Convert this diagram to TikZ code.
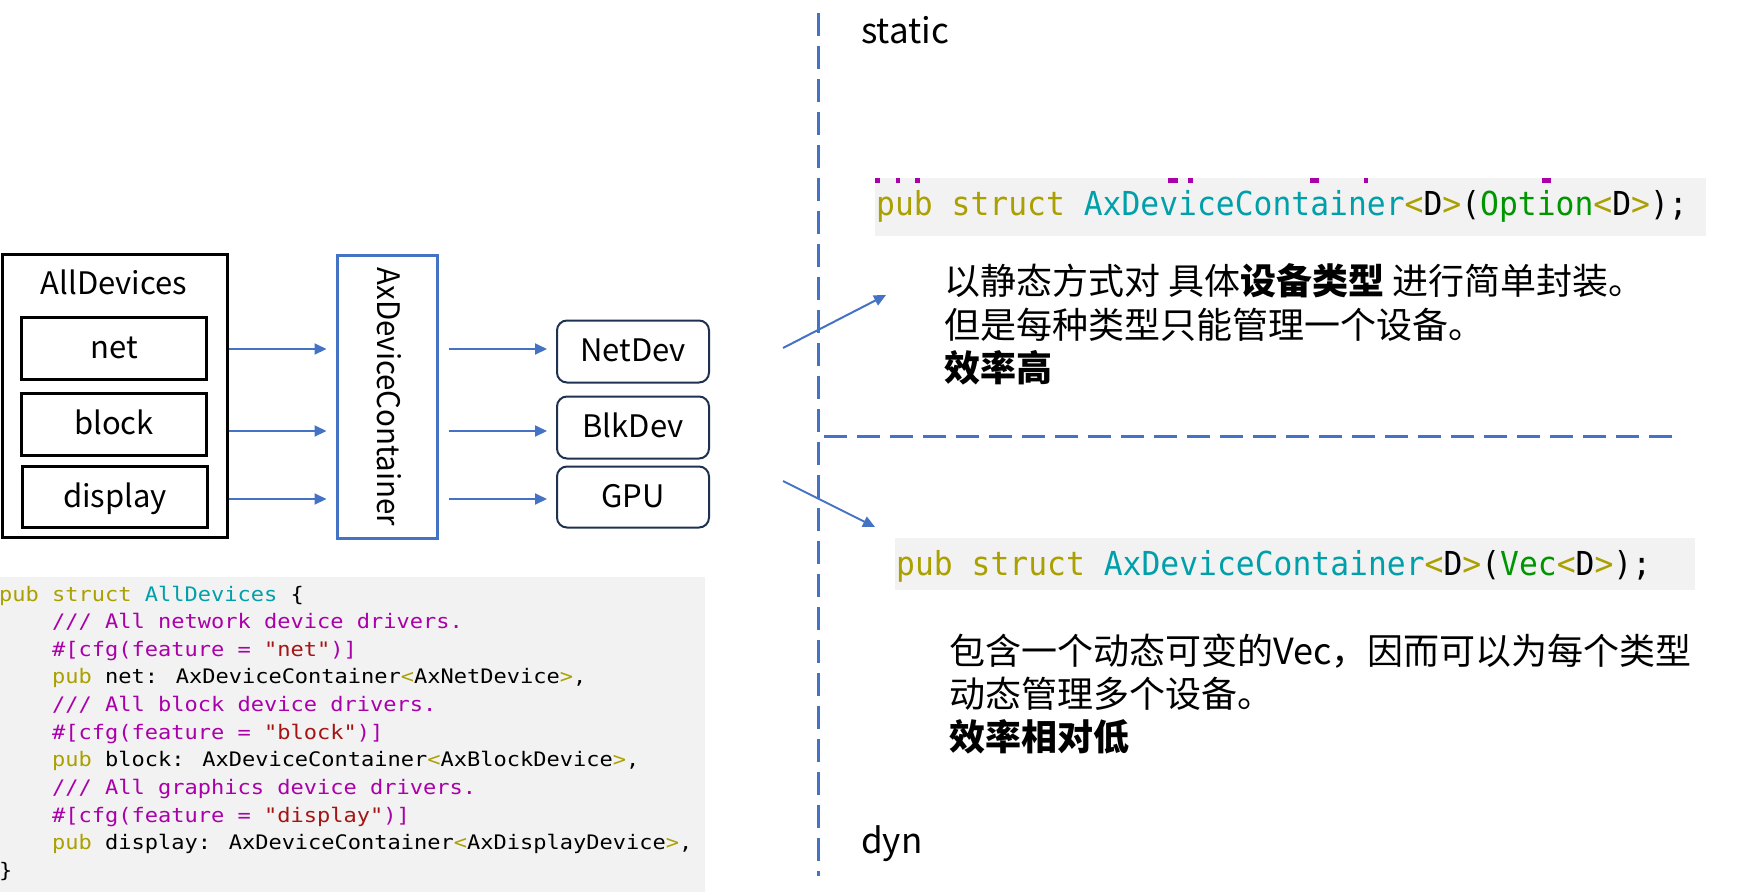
\documentclass[tikz,border=0pt]{standalone}
\usepackage{fontspec}
\setmainfont{Noto Sans CJK SC}
\newfontfamily\narrowsans[FakeStretch=0.95]{Noto Sans CJK SC}
\newfontfamily\codeA[FakeStretch=1.1]{DejaVu Sans Mono}
\newfontfamily\codeB[FakeStretch=0.95]{DejaVu Sans Mono}
\usetikzlibrary{arrows.meta}
\definecolor{axblue}{HTML}{4472C4}
\definecolor{navy}{HTML}{1F3150}
\definecolor{kw}{RGB}{170,160,0}
\definecolor{ty}{RGB}{0,160,170}
\definecolor{cm}{RGB}{170,0,170}
\definecolor{st}{RGB}{163,21,21}
\definecolor{gr}{RGB}{0,150,0}
\definecolor{codebg}{HTML}{F2F2F2}
\newcommand{\ckw}[1]{\textcolor{kw}{#1}}
\newcommand{\cty}[1]{\textcolor{ty}{#1}}
\newcommand{\ccm}[1]{\textcolor{cm}{#1}}
\newcommand{\cst}[1]{\textcolor{st}{#1}}
\newcommand{\cgr}[1]{\textcolor{gr}{#1}}
\tikzset{
  plain/.style={font=\fontsize{31}{36}\selectfont, inner sep=0pt},
  bigplain/.style={font=\fontsize{35}{40}\selectfont, inner sep=0pt},
  lbl/.style={plain, text height=24pt, text depth=4pt},
  blackbox/.style={draw=black, line width=3pt, inner sep=0pt, lbl},
  devbox/.style={draw=navy, line width=2pt, rounded corners=10pt, minimum width=152pt, inner sep=0pt, lbl},
  contbox/.style={draw=axblue, line width=3pt, inner sep=0pt},
  arr/.style={draw=axblue, line width=2pt, -{Triangle[length=12pt,width=11pt]}},
  dashline/.style={draw=axblue, line width=3pt, dash pattern=on 23pt off 10pt},
  codeline/.style={font=\codeA\fontsize{20}{24}\selectfont, inner sep=0pt, anchor=base west},
  codeline2/.style={font=\codeB\fontsize{33}{40}\selectfont, inner sep=0pt, anchor=base west},
  cjk/.style={font=\fontsize{36}{42}\selectfont, inner sep=0pt, anchor=base west},
  bgbox/.style={fill=codebg, inner sep=0pt, anchor=north west},
  frag/.style={fill=cm, inner sep=0pt, anchor=north west, minimum height=5pt}
}
\begin{document}
\begin{tikzpicture}[x=1pt,y=-1pt]
\useasboundingbox (0,0) rectangle (1737,894);

% ---------- left diagram ----------
\node[blackbox, minimum width=225pt, minimum height=283pt] (alldev) at (114.5,396) {};
\node[plain, anchor=base] (alltitle) at (114,294) {AllDevices};
\node[blackbox, minimum width=185pt, minimum height=62pt] (net) at (114,348.5) {net};
\node[blackbox, minimum width=185pt, minimum height=62pt] (block) at (114,424.5) {block};
\node[blackbox, minimum width=185pt, minimum height=61pt] (display) at (115,497) {display};

\node[contbox, minimum width=100pt, minimum height=283pt] (axc) at (387,396.5) {};
\node[lbl, font=\narrowsans\fontsize{31}{36}\selectfont, rotate=-90] (axctext) at (387,397) {AxDeviceContainer};

\node[devbox, minimum height=62pt] (netdev) at (633,351.5) {NetDev};
\node[devbox, minimum height=62pt] (blkdev) at (633,427.5) {BlkDev};
\node[devbox, minimum height=61pt] (gpu) at (633,497) {GPU};

\coordinate (r1) at (0,349);
\coordinate (r2) at (0,431);
\coordinate (r3) at (0,499);
\foreach \r in {r1,r2,r3}{
  \draw[arr, shorten >=9pt] (alldev.east |- \r) -- (axc.west |- \r);
  \draw[arr, shorten <=10pt, shorten >=9pt] (axc.east |- \r) -- (netdev.west |- \r);
}

% ---------- code block (left) ----------
\node[bgbox, minimum width=705pt, minimum height=315pt] (codebgA) at (0,577) {};
\node[codeline] (l1) at (-1,601) {\ckw{pub struct} \cty{AllDevices} \{};
\node[codeline] (l2) at (52,628.6) {\ccm{/// All network device drivers.}};
\node[codeline] (l3) at (52,656.3) {\ccm{\#[cfg(feature = }\cst{"net"}\ccm{)]}};
\node[codeline] (l4) at (52,683.9) {\ckw{pub} net: AxDeviceContainer\ckw{<}AxNetDevice\ckw{>},};
\node[codeline] (l5) at (52,711.6) {\ccm{/// All block device drivers.}};
\node[codeline] (l6) at (52,739.2) {\ccm{\#[cfg(feature = }\cst{"block"}\ccm{)]}};
\node[codeline] (l7) at (52,766.9) {\ckw{pub} block: AxDeviceContainer\ckw{<}AxBlockDevice\ckw{>},};
\node[codeline] (l8) at (52,794.5) {\ccm{/// All graphics device drivers.}};
\node[codeline] (l9) at (52,822.2) {\ccm{\#[cfg(feature = }\cst{"display"}\ccm{)]}};
\node[codeline] (l10) at (52,849.8) {\ckw{pub} display: AxDeviceContainer\ckw{<}AxDisplayDevice\ckw{>},};
\node[codeline] (l11) at (-1,877.5) {\}};

% ---------- separators ----------
\coordinate (vtop) at (818,13);
\coordinate (vbot) at (818,876);
\coordinate (hl) at (824,436);
\coordinate (hr) at (1673,436);
\draw[dashline] (vtop) -- (vbot);
\draw[dashline] (hl) -- (hr);

\node[bigplain, anchor=base west] (static) at (861,43) {static};
\node[bigplain, anchor=base west] (dyn) at (861,853) {dyn};

% ---------- static part ----------
\node[bgbox, minimum width=831pt, minimum height=58pt] (bg2) at (875,178) {};
\foreach \xa/\w in {875/5,896/4,915/5,1168/10,1188/5,1310/9,1364/4,1542/9}{
  \node[frag, minimum width=\w pt] at (\xa,178) {};
}
\node[codeline2] (code2) at (876,215) {\ckw{pub struct} \cty{AxDeviceContainer}\ckw{<}D\ckw{>}(\cgr{Option}\ckw{<}D\ckw{>});};

\node[cjk] (s1) at (944,294.5) {以静态方式对 具体\textbf{设备类型} 进行简单封装。};
\node[cjk] (s2) at (944,338.5) {但是每种类型只能管理一个设备。};
\node[cjk] (s3) at (944,381.5) {\textbf{效率高}};

% ---------- dynamic part ----------
\node[bgbox, minimum width=800pt, minimum height=52pt] (bg3) at (895,538) {};
\node[codeline2] (code3) at (896,575) {\ckw{pub struct} \cty{AxDeviceContainer}\ckw{<}D\ckw{>}(\cgr{Vec}\ckw{<}D\ckw{>});};

\node[cjk] (d1) at (949,664.5) {包含一个动态可变的Vec，因而可以为每个类型};
\node[cjk] (d2) at (949,707.5) {动态管理多个设备。};
\node[cjk] (d3) at (949,750.5) {\textbf{效率相对低}};

% ---------- diagonal arrows ----------
\coordinate (a1s) at (783,348);
\coordinate (a1e) at (886,295);
\coordinate (a2s) at (783,481);
\coordinate (a2e) at (875,527);
\draw[arr] (a1s) -- (a1e);
\draw[arr] (a2s) -- (a2e);
\end{tikzpicture}
\end{document}
